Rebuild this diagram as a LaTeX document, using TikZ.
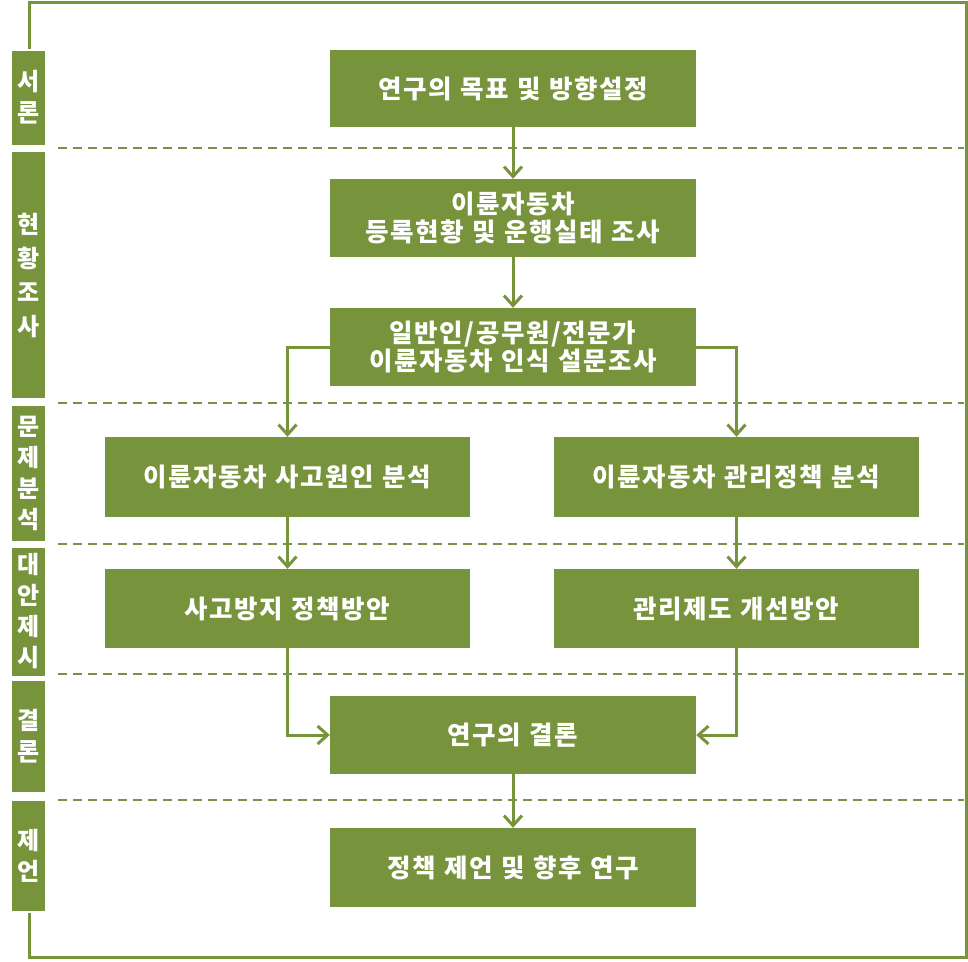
\documentclass[tikz,border=0pt]{standalone}
\usepackage{fontspec}
\setmainfont{Noto Sans CJK KR}[WordSpace=1.15]
\usetikzlibrary{arrows.meta}
\definecolor{olive}{HTML}{77933C}
\tikzset{
  box/.style={fill=olive, draw=none, text=white, align=center, inner sep=0pt,
    font=\fontsize{25.5}{28}\selectfont\bfseries\addfontfeatures{LetterSpace=6}},
  sidebar/.style={fill=olive, draw=white, line width=2pt, text=white, align=center,
    inner sep=0pt, minimum width=35pt,
    font=\fontsize{24}{31}\selectfont\bfseries},
  conn/.style={draw=olive, line width=3pt, -{Straight Barb[length=10pt,width=18pt,line width=3pt]}},
  frame/.style={draw=olive, line width=3pt},
  sep/.style={draw=olive!80!gray, line width=1.5pt, dash pattern=on 9pt off 6pt}
}
\begin{document}
\begin{tikzpicture}[x=1pt,y=-1pt]
\useasboundingbox (0,0) rectangle (968,961);
% outer frame
\draw[frame] (29,2) rectangle (966,957);
\draw[white, line width=5pt] (29,50) -- (29,911);
% separators
\foreach \yy in {148,403,544,674,800} \draw[sep] (58,\yy) -- (964,\yy);
% side bars
\node[sidebar, minimum height=96pt] (s1) at (28.5,97.5) {서\\론};
\node[sidebar, minimum height=248pt, font=\fontsize{24}{34}\selectfont\bfseries] (s2) at (28.5,275) {현\\황\\조\\사};
\node[sidebar, minimum height=137pt] (s3) at (28.5,473.5) {문\\제\\분\\석};
\node[sidebar, minimum height=130pt] (s4) at (28.5,611.5) {대\\안\\제\\시};
\node[sidebar, minimum height=113pt] (s5) at (28.5,736.5) {결\\론};
\node[sidebar, minimum height=112pt] (s6) at (28.5,855.5) {제\\언};
% boxes
\node[box, minimum width=366pt, minimum height=77pt] (b1) at (513,88.5) {연구의 목표 및 방향설정};
\node[box, minimum width=366pt, minimum height=78pt] (b2) at (513,218) {이륜자동차\\등록현황 및 운행실태 조사};
\node[box, minimum width=366pt, minimum height=78pt] (b3) at (513,347) {일반인/공무원/전문가\\이륜자동차 인식 설문조사};
\node[box, minimum width=365pt, minimum height=80pt] (b4) at (287.5,477) {이륜자동차 사고원인 분석};
\node[box, minimum width=365pt, minimum height=80pt] (b5) at (736.5,477) {이륜자동차 관리정책 분석};
\node[box, minimum width=365pt, minimum height=79pt] (b6) at (287.5,608.5) {사고방지 정책방안};
\node[box, minimum width=365pt, minimum height=79pt] (b7) at (736.5,608.5) {관리제도 개선방안};
\node[box, minimum width=366pt, minimum height=78pt] (b8) at (513,735) {연구의 결론};
\node[box, minimum width=366pt, minimum height=79pt] (b9) at (513,867.5) {정책 제언 및 향후 연구};
% connectors
\draw[conn] (b1.south) -- (b2.north);
\draw[conn] (b2.south) -- (b3.north);
\draw[conn] (b3.west) -| (b4.north);
\draw[conn] (b3.east) -| (b5.north);
\draw[conn] (b4.south) -- (b6.north);
\draw[conn] (b5.south) -- (b7.north);
\draw[conn] (b6.south) |- (b8.west);
\draw[conn] (b7.south) |- (b8.east);
\draw[conn] (b8.south) -- (b9.north);
\end{tikzpicture}
\end{document}
